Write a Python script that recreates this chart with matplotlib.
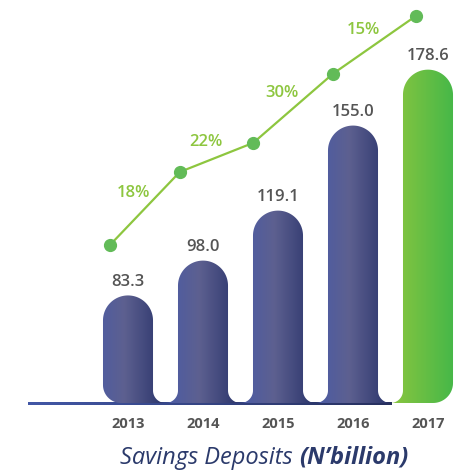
import numpy as np
import matplotlib
matplotlib.use("Agg")
import matplotlib.pyplot as plt
from matplotlib.patches import Polygon
from matplotlib.colors import LinearSegmentedColormap

years = ['2013', '2014', '2015', '2016', '2017']
deposits = [83.3, 98.0, 119.1, 155.0, 178.6]
growth = ['18%', '22%', '30%', '15%']
# decorative growth line (same y scale as bars)
trend_x = [-0.24, 0.69, 1.67, 2.73, 3.84]
trend_y = [104.6, 135.4, 147.7, 176.8, 201.3]

base = 37.9          # value at the baseline of the bars
bar_w = 0.667

plt.rcParams['font.family'] = ['Open Sans', 'DejaVu Sans']

fig = plt.figure(figsize=(4.59, 4.72), dpi=100)
ax = fig.add_axes([0, 0, 1, 1])
ax.set_xlim(-1.7067, 4.4133)
ax.set_ylim(8.77, 208.0)
ax.axis('off')

# pixels per data unit
p0 = ax.transData.transform((0, 0))
p1 = ax.transData.transform((1, 1))
kx = p1[0] - p0[0]
ky = p1[1] - p0[1]

blue_cm = LinearSegmentedColormap.from_list('b', [(0, '#4a5ba6'), (0.45, '#5d6090'), (1, '#29336a')])
green_cm = LinearSegmentedColormap.from_list('g', ['#8cc63f', '#39b54a'])
line_cm = LinearSegmentedColormap.from_list('l', ['#4257a6', '#27305e'])


def arc(cx, cy, rx, ry, a0, a1, n=30):
    t = np.radians(np.linspace(a0, a1, n))
    return np.column_stack([cx + rx * np.cos(t), cy + ry * np.sin(t)])


def bar_shape(xc, top, left, right):
    xl = xc - bar_w / 2
    xr = xc + bar_w / 2
    fx, fy = 12.5 / kx, 12.5 / ky
    pts = []
    # bottom-right, going up
    if right == 'flare':
        pts.append(arc(xr + fx, base + fy, fx, fy, 270, 180))
    else:
        rx, ry = 20 / kx, 20 / ky
        pts.append(arc(xr - rx, base + ry, rx, ry, 270, 360))
    # rounded top, right to left
    r_y = (bar_w / 2) * kx / ky
    pts.append(arc(xc, top - r_y, bar_w / 2, r_y, 0, 180, 60))
    # bottom-left, going down
    if left == 'flare':
        pts.append(arc(xl - fx, base + fy, fx, fy, 0, -90))
    else:
        rx, ry = 18 / kx, 18 / ky
        pts.append(arc(xl + rx, base + ry, rx, ry, 180, 270))
    return np.vstack(pts), xl - fx, xr + fx


grad = np.linspace(0, 1, 256).reshape(1, -1)

# baseline
x0, x1 = -1.333, 3.52
th = 3 / ky
line_patch = Polygon([(x0, base - th * 0.6), (x1, base - th * 0.6), (x1, base + th * 0.4), (x0, base + th * 0.4)],
                     closed=True, facecolor='none', edgecolor='none')
ax.add_patch(line_patch)
im = ax.imshow(grad, cmap=line_cm, aspect='auto', extent=(x0, x1, base - th, base + th), zorder=1)
im.set_clip_path(line_patch)

for i, v in enumerate(deposits):
    left = 'round' if i == 0 else 'flare'
    right = 'round' if i == len(deposits) - 1 else 'flare'
    verts, ex0, ex1 = bar_shape(i, v, left, right)
    poly = Polygon(verts, closed=True, facecolor='none', edgecolor='none')
    ax.add_patch(poly)
    cm = green_cm if i == len(deposits) - 1 else blue_cm
    im = ax.imshow(grad, cmap=cm, aspect='auto', extent=(ex0, ex1, base - 1, v + 1), zorder=2)
    im.set_clip_path(poly)
    ax.annotate(f'{v:.1f}', (i, v), xytext=(0, 4), textcoords='offset points',
                ha='center', va='bottom', fontsize=12, fontweight='semibold', color='#555555')
    ax.annotate(years[i], (i, base), xytext=(0, -10), textcoords='offset points',
                ha='center', va='top', fontsize=10.5, fontweight='bold', color='#555555')

ax.plot(trend_x, trend_y, color='#8dc63f', lw=1.6, zorder=3)
ax.plot(trend_x, trend_y, 'o', color='#62bb58', ms=8.5, zorder=4)
for j, g in enumerate(growth):
    mx = (trend_x[j] + trend_x[j + 1]) / 2
    my = (trend_y[j] + trend_y[j + 1]) / 2
    ax.annotate(g, (mx, my), xytext=(-8, 11), textcoords='offset points',
                ha='center', va='center', fontsize=12, fontweight='semibold', color='#8dc63f')

t1 = fig.text(0.262, 0.018, 'Savings Deposits ', fontsize=17, style='italic',
              color='#2b3a6b', ha='left', va='baseline')
ax.annotate('(N\u2019billion)', xy=(1, 0), xycoords=t1, ha='left', va='bottom',
            fontsize=17, style='italic', fontweight='bold', color='#2b3a6b')

fig.savefig('out.png', dpi=100)
